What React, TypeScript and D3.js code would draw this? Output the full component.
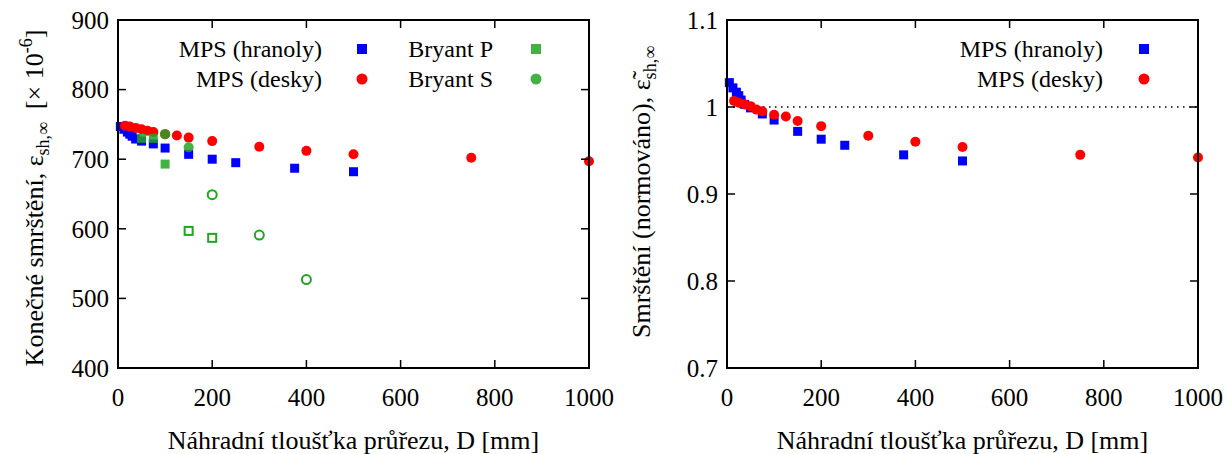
import React from "react";
import * as d3 from "d3";

// Axis ticks
const xTicks = [0, 200, 400, 600, 800, 1000];
const yTicksAbs = [400, 500, 600, 700, 800, 900];
const yTicksNorm = [0.7, 0.8, 0.9, 1, 1.1];

// MPS model, prisms (hranoly)
const prismD = [5, 12.5, 20, 25, 30, 37.5, 50, 75, 100, 150, 200, 250, 375, 500];
const prismAbs = [747, 743, 739, 736, 733, 729, 726, 722, 716, 707, 700, 695, 687, 682];
const prismNorm = [1.028, 1.022, 1.017, 1.013, 1.008, 1.003, 0.999, 0.992, 0.985, 0.972, 0.963, 0.956, 0.945, 0.938];

// MPS model, slabs (desky)
const slabD = [15, 25, 37.5, 50, 62.5, 75, 100, 125, 150, 200, 300, 400, 500, 750, 1000];
const slabAbs = [748, 747, 745, 743, 741, 739, 736, 734, 731, 726, 718, 712, 707, 702, 697];
const slabNorm = [1.007, 1.005, 1.003, 1.001, 0.997, 0.995, 0.991, 0.989, 0.984, 0.978, 0.967, 0.96, 0.954, 0.945, 0.942];

// Bryant experiments
const bryantPFilledD = [50, 75, 100];
const bryantPFilled = [730, 730, 693];
const bryantPOpenD = [150, 200];
const bryantPOpen = [597, 587];
const bryantSFilledD = [100, 150];
const bryantSFilled = [736, 717];
const bryantSOpenD = [200, 300, 400];
const bryantSOpen = [649, 591, 527];

const BLUE = "#0000ff";
const RED = "#ff0000";
const GREEN = "#22a322";
const FONT = "Liberation Serif, Tinos, Times New Roman, DejaVu Serif, serif";
const FS = 24;
const FS_TICK = 25;
const FS_TITLE = 26;
const FS_SUB = 18;

const W = 471;
const TOP = 20;
const BOTTOM = 368;
const TICK = 8;

const xLabel = "Náhradní tloušťka průřezu, D [mm]";

type Sc = d3.ScaleLinear<number, number>;

const txt = { fontFamily: FONT, fontSize: FS };
const tick = { fontFamily: FONT, fontSize: FS_TICK };
const title = { fontFamily: FONT, fontSize: FS_TITLE };

function Frame({ x, y, yTicks, fmt }: { x: Sc; y: Sc; yTicks: number[]; fmt: (v: number) => string }) {
  const [x0, x1] = x.range();
  return (
    <g>
      {xTicks.map((t) => (
        <g key={"xt" + t}>
          <line x1={x(t)} x2={x(t)} y1={BOTTOM} y2={BOTTOM - TICK} stroke="#000" strokeWidth={1.5} />
          <line x1={x(t)} x2={x(t)} y1={TOP} y2={TOP + TICK} stroke="#000" strokeWidth={1.5} />
          <text x={x(t)} y={BOTTOM + 38} textAnchor="middle" style={tick}>{t}</text>
        </g>
      ))}
      {yTicks.map((t) => (
        <g key={"yt" + t}>
          <line x1={x0} x2={x0 + TICK} y1={y(t)} y2={y(t)} stroke="#000" strokeWidth={1.5} />
          <line x1={x1} x2={x1 - TICK} y1={y(t)} y2={y(t)} stroke="#000" strokeWidth={1.5} />
          <text x={x0 - 9} y={y(t)} dy="0.35em" textAnchor="end" style={tick}>{fmt(t)}</text>
        </g>
      ))}
      <rect x={x0} y={TOP} width={x1 - x0} height={BOTTOM - TOP} fill="none" stroke="#000" strokeWidth={2} />
      <text x={(x0 + x1) / 2} y={BOTTOM + 81} textAnchor="middle" style={title}>{xLabel}</text>
    </g>
  );
}

function Squares({ x, y, xs, ys, color, size, open }: { x: Sc; y: Sc; xs: number[]; ys: number[]; color: string; size: number; open?: boolean }) {
  return (
    <g>
      {xs.map((d, i) => (
        <rect
          key={i}
          x={x(d) - size / 2}
          y={y(ys[i]) - size / 2}
          width={size}
          height={size}
          fill={open ? "none" : color}
          fillOpacity={open ? 0 : color === GREEN ? 0.85 : 1}
          stroke={open ? color : "none"}
          strokeWidth={open ? 2 : 0}
        />
      ))}
    </g>
  );
}

function Circles({ x, y, xs, ys, color, r, open }: { x: Sc; y: Sc; xs: number[]; ys: number[]; color: string; r: number; open?: boolean }) {
  return (
    <g>
      {xs.map((d, i) => (
        <circle
          key={i}
          cx={x(d)}
          cy={y(ys[i])}
          r={r}
          fill={open ? "none" : color}
          fillOpacity={open ? 0 : color === GREEN ? 0.85 : 1}
          stroke={open ? color : "none"}
          strokeWidth={open ? 2 : 0}
        />
      ))}
    </g>
  );
}

function LegendRow({ tx, mx, y, label, kind, color }: { tx: number; mx: number; y: number; label: string; kind: "sq" | "ci"; color: string }) {
  return (
    <g>
      <text x={tx} y={y} dy="0.35em" textAnchor="end" style={txt}>{label}</text>
      {kind === "sq" ? (
        <rect x={mx - 5} y={y - 5} width={10} height={10} fill={color} fillOpacity={color === GREEN ? 0.85 : 1} />
      ) : (
        <circle cx={mx} cy={y} r={5.5} fill={color} fillOpacity={color === GREEN ? 0.85 : 1} />
      )}
    </g>
  );
}

export default function App() {
  const xL = d3.scaleLinear().domain([0, 1000]).range([118, 118 + W]);
  const yL = d3.scaleLinear().domain([400, 900]).range([BOTTOM, TOP]);
  const xR = d3.scaleLinear().domain([0, 1000]).range([727, 727 + W]);
  const yR = d3.scaleLinear().domain([0.7, 1.1]).range([BOTTOM, TOP]);

  const fmtNorm = (v: number) => (v === 1 ? "1" : d3.format(".1f")(v));

  return (
    <div style={{ position: "absolute", left: 0, top: 0 }}>
      <svg width={1228} height={454} style={{ display: "block", background: "#fff" }}>
        {/* Left panel: absolute final shrinkage */}
        <Squares x={xL} y={yL} xs={prismD} ys={prismAbs} color={BLUE} size={9} />
        <Circles x={xL} y={yL} xs={slabD} ys={slabAbs} color={RED} r={5} />
        <Squares x={xL} y={yL} xs={bryantPFilledD} ys={bryantPFilled} color={GREEN} size={9} />
        <Circles x={xL} y={yL} xs={bryantSFilledD} ys={bryantSFilled} color={GREEN} r={5} />
        <Squares x={xL} y={yL} xs={bryantPOpenD} ys={bryantPOpen} color={GREEN} size={8} open />
        <Circles x={xL} y={yL} xs={bryantSOpenD} ys={bryantSOpen} color={GREEN} r={4.5} open />
        <Frame x={xL} y={yL} yTicks={yTicksAbs} fmt={(v) => String(v)} />
        <LegendRow tx={322} mx={362} y={49} label="MPS (hranoly)" kind="sq" color={BLUE} />
        <LegendRow tx={322} mx={362} y={79} label="MPS (desky)" kind="ci" color={RED} />
        <LegendRow tx={493} mx={536} y={49} label="Bryant P" kind="sq" color={GREEN} />
        <LegendRow tx={493} mx={536} y={79} label="Bryant S" kind="ci" color={GREEN} />
        <text transform={`translate(43,${(TOP + BOTTOM) / 2 + 4}) rotate(-90)`} textAnchor="middle" style={title}>
          Konečné smrštění, ε<tspan dy={6} fontSize={FS_SUB}>sh,∞</tspan>
          <tspan dy={-6}>{"\u00a0\u00a0[× 10"}</tspan>
          <tspan dy={-11} fontSize={FS_SUB}>-6</tspan>
          <tspan dy={11}>]</tspan>
        </text>

        {/* Right panel: normalised final shrinkage */}
        <line x1={xR(0)} x2={xR(1000)} y1={yR(1)} y2={yR(1)} stroke="#000" strokeWidth={1.5} strokeDasharray="1.5,4.5" />
        <Squares x={xR} y={yR} xs={prismD} ys={prismNorm} color={BLUE} size={9} />
        <Circles x={xR} y={yR} xs={slabD} ys={slabNorm} color={RED} r={5} />
        <Frame x={xR} y={yR} yTicks={yTicksNorm} fmt={fmtNorm} />
        <LegendRow tx={1103} mx={1144} y={49} label="MPS (hranoly)" kind="sq" color={BLUE} />
        <LegendRow tx={1103} mx={1144} y={79} label="MPS (desky)" kind="ci" color={RED} />
        <g transform={`translate(650,${(TOP + BOTTOM) / 2 - 2}) rotate(-90)`}>
          <text textAnchor="middle" style={title}>
            Smrštění (normováno), <tspan>{"ε\u0303"}</tspan>
            <tspan dy={6} fontSize={FS_SUB}>sh,∞</tspan>
          </text>
        </g>
      </svg>
    </div>
  );
}
